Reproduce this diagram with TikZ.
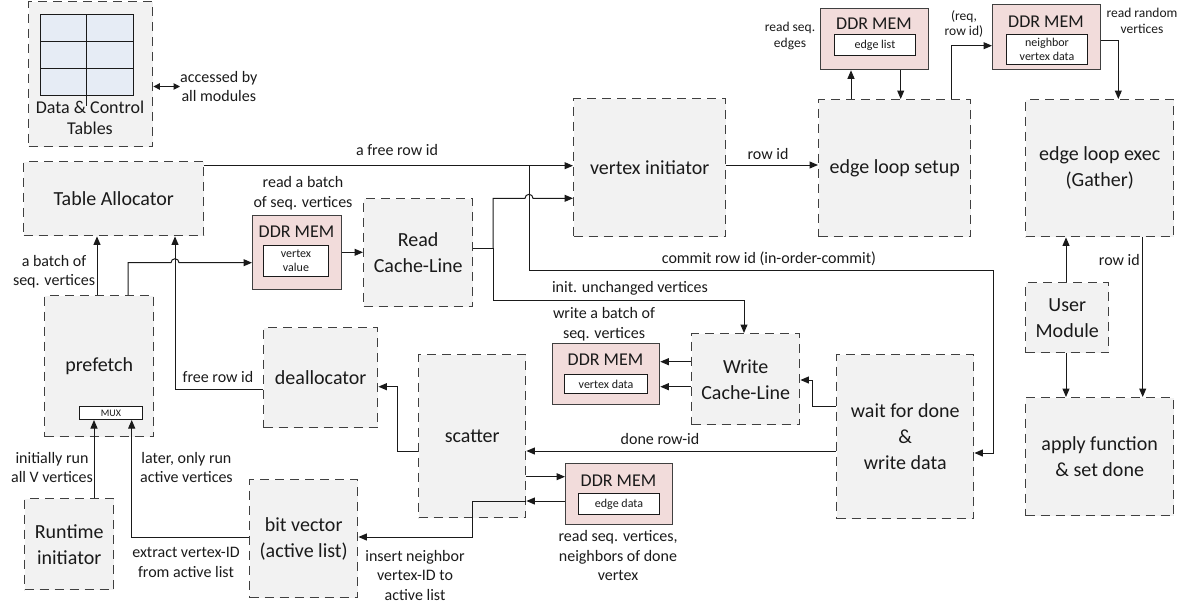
\documentclass[tikz,border=0pt]{standalone}
\usepackage{fontspec}
\setmainfont{Carlito}
\usetikzlibrary{arrows.meta}
\definecolor{boxfill}{HTML}{F2F2F2}
\definecolor{boxline}{HTML}{404040}
\definecolor{memfill}{HTML}{F2DCDB}
\definecolor{gridfill}{HTML}{E6ECF5}
\definecolor{ink}{HTML}{1A1A1A}
\begin{document}
\begin{tikzpicture}[x=1pt,y=-1pt,
  sz/.style 2 args={minimum width=#1pt, minimum height=#2pt},
  dbox/.style={draw=boxline, fill=boxfill, line width=1.4pt, dash pattern=on 9pt off 6pt,
    inner sep=0pt, align=center, anchor=north west, text=ink,
    font=\fontsize{20}{26}\selectfont},
  mem/.style={draw=boxline, fill=memfill, line width=1.3pt, inner sep=0pt, anchor=north west},
  memtitle/.style={inner sep=0pt, text=ink, font=\fontsize{18}{20}\selectfont},
  memin/.style={draw=ink, fill=white, line width=1pt, inner sep=0pt, anchor=north west,
    align=center, text=ink, font=\fontsize{12}{14}\selectfont},
  lbl/.style={inner sep=0pt, align=center, text=ink, font=\fontsize{16}{19.5}\selectfont},
  slbl/.style={inner sep=0pt, align=center, text=ink, font=\fontsize{13.5}{15.5}\selectfont},
  wire/.style={draw=ink, line width=1pt},
  arr/.style={wire, -{Triangle[length=8.5pt,width=7pt]}},
  darr/.style={wire, {Triangle[length=6.5pt,width=6.5pt]}-{Triangle[length=6.5pt,width=6.5pt]}}
]
\useasboundingbox (0,0) rectangle (1197,605);

% ---------- shared tables ----------
\node[dbox, sz={124}{145}] (dct) at (28,1) {};
\fill[gridfill] (40,14) rectangle (133,95);
\draw[ink, line width=1pt] (40,14) rectangle (133,95)
  (40,41.3) -- (133,41.3) (40,68.3) -- (133,68.3) (86.7,14) -- (86.7,106);
\node[inner sep=0pt, align=center, text=ink, font=\fontsize{18}{20.5}\selectfont] (dctl) at (90,118) {Data \& Control\\Tables};
\node[lbl, anchor=west] (acc) at (180,86.5) {accessed by\\all modules};
\draw[darr] (dct.east |- acc.west) -- (acc.west);

% ---------- processing blocks ----------
\node[dbox, sz={180}{74}]  (ta)  at (23,161)  {Table Allocator};
\node[dbox, sz={109}{141}] (pf)  at (44,295)  {prefetch};
\node[draw=ink, fill=white, line width=1pt, inner sep=0pt, anchor=north west, sz={63}{13},
      text=ink, font=\fontsize{10}{11}\selectfont] (mux) at (79,406) {MUX};
\node[dbox, sz={89}{91}]   (rt)  at (24,498)  {Runtime\\initiator};
\node[dbox, sz={108}{118}] (bv)  at (249,479) {bit vector\\(active list)};
\node[dbox, sz={114}{100}] (da)  at (263,327) {deallocator};
\node[dbox, sz={107}{163}] (sc)  at (418,354) {scatter};
\node[dbox, sz={109}{108}] (rc)  at (363,198) {Read\\Cache-Line};
\node[dbox, sz={152}{138}] (vi)  at (573,98)  {vertex initiator};
\node[dbox, sz={152}{137}] (els) at (818,99)  {edge loop setup};
\node[dbox, sz={148}{137}] (ele) at (1025,99) {edge loop exec\\(Gather)};
\node[dbox, sz={83}{70}]   (um)  at (1025,282) {User\\Module};
\node[dbox, sz={148}{118}] (af)  at (1025,397) {apply function\\\& set done};
\node[dbox, sz={108}{91}]  (wc)  at (691,333) {Write\\Cache-Line};
\node[dbox, sz={137}{164}] (wd)  at (836,354) {wait for done\\\&\\write data};

% ---------- DDR memories ----------
\node[mem, sz={89}{74}] (dv) at (252,215) {};
\node[memtitle] at (296.5,231.5) {DDR MEM};
\node[memin, sz={65}{31}] at (263,245) {vertex\\value};

\node[mem, sz={107}{61}] (dvd) at (552,343) {};
\node[memtitle] at (605.5,360) {DDR MEM};
\node[memin, sz={83}{19}] at (564,374) {vertex data};

\node[mem, sz={107}{61}] (ded) at (565,463) {};
\node[memtitle] at (618.5,480.7) {DDR MEM};
\node[memin, sz={81}{21}] at (578,493) {edge data};

\node[mem, sz={108}{61}] (del) at (820,8) {};
\node[memtitle] at (874,23.3) {DDR MEM};
\node[memin, sz={81}{21}] at (834,34) {edge list};

\node[mem, sz={108}{65}] (dnb) at (992,4) {};
\node[memtitle] at (1046,21.7) {DDR MEM};
\node[memin, sz={81}{30}] at (1006,34) {neighbor\\vertex data};

% ---------- connectors ----------
% allocation path
\draw[arr] (pf.north -| 97,0) -- (ta.south -| 97,0);
\draw[arr] (da.west |- 0,389) -| (ta.south -| 175,0);
\draw[arr] (pf.north -| 128,0) |- (171,262.7) arc[start angle=180, end angle=360, radius=4]
  -- (dv.west |- 0,262.7);
\draw[arr] (dv.east |- 0,252.3) -- (rc.west |- 0,252.3);

% vertex sources into the MUX
\draw[arr] (rt.north -| 94,0) -- (mux.south -| 94,0);
\draw[arr] (bv.west |- 0,537.3) -| (mux.south -| 131.7,0);

% row ids to the vertex initiator and the commit path
\coordinate (fr) at (529,165.7);
\draw[arr] (ta.east |- fr) -- (vi.west |- fr);
\draw[arr] (fr) |- (993,270) |- (wd.east |- 0,453);
\coordinate (rcj) at (493,248.3);
\draw[wire] (rc.east |- rcj) -- (rcj);
\draw[arr] (rcj) |- (525,198.3) arc[start angle=180, end angle=360, radius=4] -- (vi.west |- 0,198.3);
\draw[arr] (rcj) |- (744,300) -- (wc.north -| 744,0);

% edge loop
\draw[arr] (vi.east |- 0,165) -- (els.west |- 0,165);
\draw[arr] (els.north -| 851,0) -- (del.south -| 851,0);
\draw[arr] (del.south -| 900.7,0) -- (els.north -| 900.7,0);
\draw[arr] (els.north -| 951.7,0) |- (dnb.west |- 0,45.7);
\draw[arr] (dnb.east |- 0,40.7) -| (ele.north -| 1118.3,0);
\draw[arr] (um.north -| 1066,0) -- (ele.south -| 1066,0);
\draw[arr] (um.south -| 1066,0) -- (af.north -| 1066,0);
\draw[arr] (ele.south -| 1142.7,0) -- (af.north -| 1142.7,0);

% write back
\draw[arr] (wd.west |- 0,406) -| (812,380) -- (wc.east |- 0,380);
\draw[arr] (wc.west |- 0,361.7) -- (dvd.east |- 0,361.7);
\draw[arr] (wc.west |- 0,386.7) -- (dvd.east |- 0,386.7);

% scatter
\draw[arr] (wd.west |- 0,451) -- (sc.east |- 0,451);
\draw[arr] (sc.west |- 0,451.7) -| (397.7,386.7) -- (da.east |- 0,386.7);
\draw[arr] (sc.east |- 0,476.7) -- (ded.west |- 0,476.7);
\draw[arr] (ded.west |- 0,501) -- (sc.east |- 0,501);
\coordinate (scout) at (472.7,501);
\draw[wire] (sc.east |- scout) -- (scout);
\draw[arr] (scout) |- (bv.east |- 0,537);

% ---------- labels ----------
\node[lbl] at (54,271.5) {a batch of\\seq. vertices};
\node[lbl] at (52,467.5) {initially run\\all V vertices};
\node[lbl, anchor=west] at (140,467.5) {later, only run\\active vertices};
\node[lbl] at (186,562.5) {extract vertex-ID\\from active list};
\node[lbl] at (218,377) {free row id};
\node[lbl] at (303,193.3) {read a batch\\of seq. vertices};
\node[lbl] at (397,150) {a free row id};
\node[lbl] at (768,154) {row id};
\node[lbl] at (769,259) {commit row id (in-order-commit)};
\node[lbl] at (630,288) {init. unchanged vertices};
\node[lbl] at (604,324) {write a batch of\\seq. vertices};
\node[lbl] at (660,439) {done row-id};
\node[lbl] at (618,555.5) {read seq. vertices,\\neighbors of done\\vertex};
\node[lbl] at (415,575) {insert neighbor\\vertex-ID to\\active list};
\node[lbl, anchor=east] at (1140,260) {row id};
\node[slbl] at (790,36) {read seq.\\edges};
\node[slbl] at (964,24) {(req,\\row id)};
\node[slbl] at (1142,21) {read random\\vertices};
\end{tikzpicture}
\end{document}
